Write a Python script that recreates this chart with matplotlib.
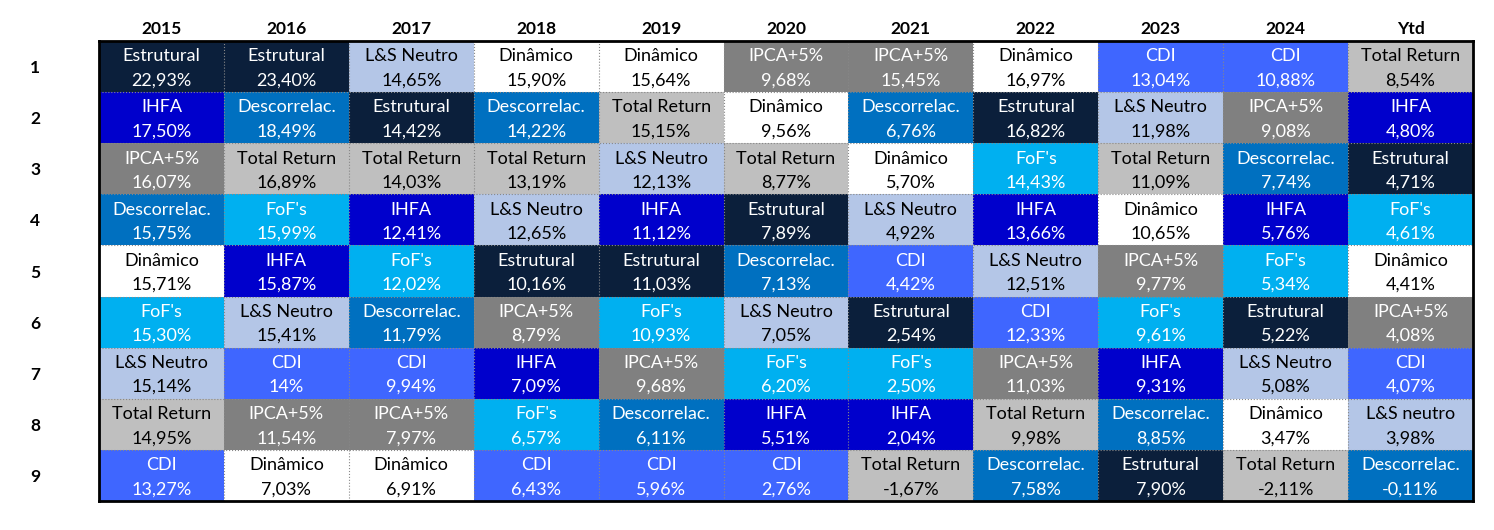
import matplotlib.pyplot as plt
from matplotlib.patches import Rectangle

plt.rcParams['font.family'] = ['Lato', 'DejaVu Sans']

years = ['2015', '2016', '2017', '2018', '2019', '2020', '2021', '2022', '2023', '2024', 'Ytd']
ranks = ['1', '2', '3', '4', '5', '6', '7', '8', '9']

# nomes por coluna (do 1o ao 9o lugar)
names = [
    ['Estrutural', 'IHFA', 'IPCA+5%', 'Descorrelac.', 'Dinâmico', "FoF's", 'L&S Neutro', 'Total Return', 'CDI'],
    ['Estrutural', 'Descorrelac.', 'Total Return', "FoF's", 'IHFA', 'L&S Neutro', 'CDI', 'IPCA+5%', 'Dinâmico'],
    ['L&S Neutro', 'Estrutural', 'Total Return', 'IHFA', "FoF's", 'Descorrelac.', 'CDI', 'IPCA+5%', 'Dinâmico'],
    ['Dinâmico', 'Descorrelac.', 'Total Return', 'L&S Neutro', 'Estrutural', 'IPCA+5%', 'IHFA', "FoF's", 'CDI'],
    ['Dinâmico', 'Total Return', 'L&S Neutro', 'IHFA', 'Estrutural', "FoF's", 'IPCA+5%', 'Descorrelac.', 'CDI'],
    ['IPCA+5%', 'Dinâmico', 'Total Return', 'Estrutural', 'Descorrelac.', 'L&S Neutro', "FoF's", 'IHFA', 'CDI'],
    ['IPCA+5%', 'Descorrelac.', 'Dinâmico', 'L&S Neutro', 'CDI', 'Estrutural', "FoF's", 'IHFA', 'Total Return'],
    ['Dinâmico', 'Estrutural', "FoF's", 'IHFA', 'L&S Neutro', 'CDI', 'IPCA+5%', 'Total Return', 'Descorrelac.'],
    ['CDI', 'L&S Neutro', 'Total Return', 'Dinâmico', 'IPCA+5%', "FoF's", 'IHFA', 'Descorrelac.', 'Estrutural'],
    ['CDI', 'IPCA+5%', 'Descorrelac.', 'IHFA', "FoF's", 'Estrutural', 'L&S Neutro', 'Dinâmico', 'Total Return'],
    ['Total Return', 'IHFA', 'Estrutural', "FoF's", 'Dinâmico', 'IPCA+5%', 'CDI', 'L&S neutro', 'Descorrelac.'],
]

values = [
    ['22,93%', '17,50%', '16,07%', '15,75%', '15,71%', '15,30%', '15,14%', '14,95%', '13,27%'],
    ['23,40%', '18,49%', '16,89%', '15,99%', '15,87%', '15,41%', '14%', '11,54%', '7,03%'],
    ['14,65%', '14,42%', '14,03%', '12,41%', '12,02%', '11,79%', '9,94%', '7,97%', '6,91%'],
    ['15,90%', '14,22%', '13,19%', '12,65%', '10,16%', '8,79%', '7,09%', '6,57%', '6,43%'],
    ['15,64%', '15,15%', '12,13%', '11,12%', '11,03%', '10,93%', '9,68%', '6,11%', '5,96%'],
    ['9,68%', '9,56%', '8,77%', '7,89%', '7,13%', '7,05%', '6,20%', '5,51%', '2,76%'],
    ['15,45%', '6,76%', '5,70%', '4,92%', '4,42%', '2,54%', '2,50%', '2,04%', '-1,67%'],
    ['16,97%', '16,82%', '14,43%', '13,66%', '12,51%', '12,33%', '11,03%', '9,98%', '7,58%'],
    ['13,04%', '11,98%', '11,09%', '10,65%', '9,77%', '9,61%', '9,31%', '8,85%', '7,90%'],
    ['10,88%', '9,08%', '7,74%', '5,76%', '5,34%', '5,22%', '5,08%', '3,47%', '-2,11%'],
    ['8,54%', '4,80%', '4,71%', '4,61%', '4,41%', '4,08%', '4,07%', '3,98%', '-0,11%'],
]

# cor de fundo e cor do texto por categoria
colors = {
    'Estrutural': ('#0b1f3b', 'white'),
    'IHFA': ('#0000cc', 'white'),
    'IPCA+5%': ('#808080', 'white'),
    'Descorrelac.': ('#0070c0', 'white'),
    'Dinâmico': ('#ffffff', 'black'),
    "FoF's": ('#00b0f0', 'white'),
    'L&S Neutro': ('#b4c6e7', 'black'),
    'Total Return': ('#bfbfbf', 'black'),
    'CDI': ('#3f66ff', 'white'),
}

fig = plt.figure(figsize=(14.94, 5.30), dpi=100)
ax = fig.add_axes([99 / 1494, 1 - 501 / 530, 1374 / 1494, 460 / 530])

for c in range(len(years)):
    for r in range(len(ranks)):
        nm = names[c][r]
        bg, fg = colors[nm.replace('neutro', 'Neutro')]
        ax.add_patch(Rectangle((c, r), 1, 1, facecolor=bg, edgecolor='none'))
        ax.text(c + 0.5, r + 0.30, nm, ha='center', va='center', color=fg, fontsize=13)
        ax.text(c + 0.5, r + 0.77, values[c][r], ha='center', va='center', color=fg, fontsize=13)

for c in range(1, len(years)):
    ax.axvline(c, color='#888888', lw=0.8, ls=':')
for r in range(1, len(ranks)):
    ax.axhline(r, color='#888888', lw=0.8, ls=':')

ax.set_xlim(0, len(years))
ax.set_ylim(len(ranks), 0)

ax.set_xticks([i + 0.5 for i in range(len(years))])
ax.set_xticklabels(years, fontsize=12.5, fontweight='bold')
ax.xaxis.tick_top()
ax.set_yticks([i + 0.5 for i in range(len(ranks))])
ax.set_yticklabels(ranks, fontsize=12.5, fontweight='bold', ha='center')
ax.tick_params(axis='both', length=0)
ax.tick_params(axis='x', pad=3)
ax.tick_params(axis='y', pad=46)

for s in ax.spines.values():
    s.set_linewidth(2)
    s.set_color('black')

fig.savefig('out.png', dpi=100)
